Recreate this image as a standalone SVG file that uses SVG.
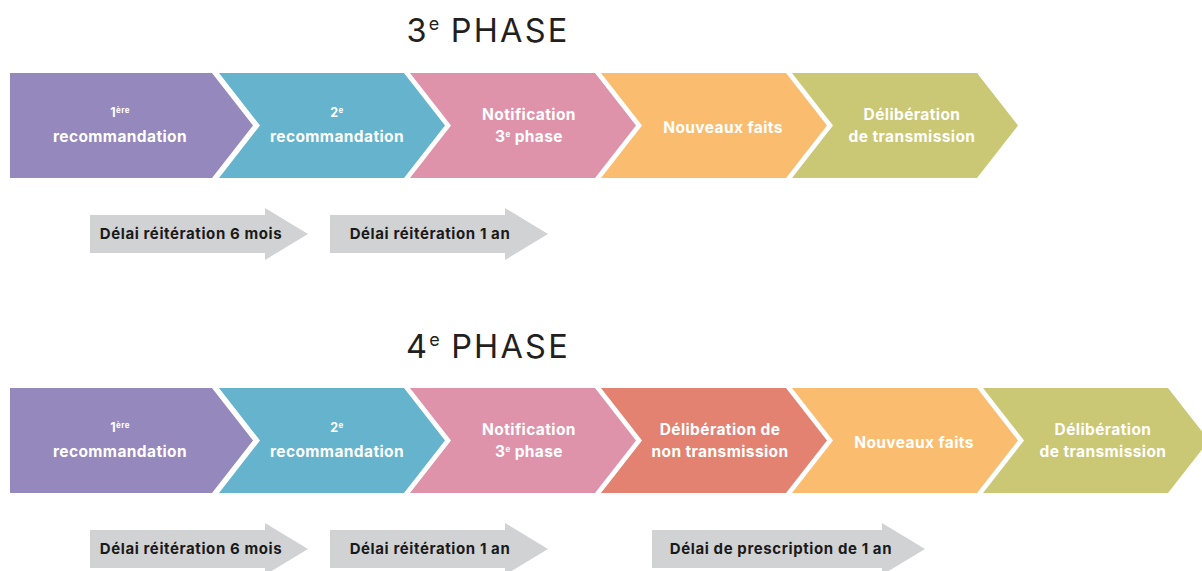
<svg xmlns="http://www.w3.org/2000/svg" width="1202" height="571" viewBox="0 0 1202 571">
<style>
.lbl{font-family:Inter,"Open Sans","Liberation Sans",sans-serif;font-weight:700;font-size:15.5px;letter-spacing:0.4px;fill:#ffffff;text-anchor:middle}
.sm{font-size:12.5px}
.sup{font-size:8px}
.dl{font-family:Inter,"Open Sans","Liberation Sans",sans-serif;font-weight:700;font-size:15px;letter-spacing:0.6px;fill:#1a1a1a;text-anchor:middle}
.ttl{font-family:Inter,"Liberation Sans",sans-serif;font-weight:400;font-size:32.5px;letter-spacing:2.2px;fill:#231f20;text-anchor:middle}
.tsup{font-size:18px;letter-spacing:0}
.gray{fill:#d1d2d4}
.c1{fill:#9488bd}.c2{fill:#66b3cd}.c3{fill:#de93ab}.c4{fill:#fabd70}.c5{fill:#cac874}.c6{fill:#e38271}
</style>
<defs>
<path id="first" d="M10,0 H212 L253,52.5 L212,105 H10 Z"/>
<path id="chev" d="M0,0 H185 L226,52.5 L185,105 H0 L41,52.5 Z"/>
<path id="arr" d="M0,7 H175 V0 L218,26 L175,52 V45 H0 Z"/>
</defs>

<g id="title3"><text class="ttl" x="488" y="42">3<tspan class="tsup" dy="-12">e</tspan><tspan dy="12"> PHASE</tspan></text></g>
<g id="title4"><text class="ttl" x="488" y="358">4<tspan class="tsup" dy="-12">e</tspan><tspan dy="12"> PHASE</tspan></text></g>

<!-- Row 1 -->
<g id="r1n1" transform="translate(0,73)"><use href="#first" class="c1"/><text class="lbl" x="120" y="44"><tspan class="sm">1</tspan><tspan class="sup" dy="-4">ère</tspan></text><text class="lbl" x="120" y="69">recommandation</text></g>
<g id="r1n2" transform="translate(219,73)"><use href="#chev" class="c2"/><text class="lbl" x="118" y="44"><tspan class="sm">2</tspan><tspan class="sup" dy="-4">e</tspan></text><text class="lbl" x="118" y="69">recommandation</text></g>
<g id="r1n3" transform="translate(410,73)"><use href="#chev" class="c3"/><text class="lbl" x="119" y="47">Notification</text><text class="lbl" x="119" y="69">3<tspan class="sup" dy="-5">e</tspan><tspan dy="5"> phase</tspan></text></g>
<g id="r1n4" transform="translate(601,73)"><use href="#chev" class="c4"/><text class="lbl" x="122" y="60">Nouveaux faits</text></g>
<g id="r1n5" transform="translate(792,73)"><use href="#chev" class="c5"/><text class="lbl" x="120" y="47">Délibération</text><text class="lbl" x="120" y="69">de transmission</text></g>

<g id="r1d1" transform="translate(90,208)"><use href="#arr" class="gray"/><text class="dl" x="101" y="31">Délai réitération 6 mois</text></g>
<g id="r1d2" transform="translate(330,208)"><use href="#arr" class="gray"/><text class="dl" x="100" y="31">Délai réitération 1 an</text></g>

<!-- Row 2 -->
<g id="r2n1" transform="translate(0,388)"><use href="#first" class="c1"/><text class="lbl" x="120" y="44"><tspan class="sm">1</tspan><tspan class="sup" dy="-4">ère</tspan></text><text class="lbl" x="120" y="69">recommandation</text></g>
<g id="r2n2" transform="translate(219,388)"><use href="#chev" class="c2"/><text class="lbl" x="118" y="44"><tspan class="sm">2</tspan><tspan class="sup" dy="-4">e</tspan></text><text class="lbl" x="118" y="69">recommandation</text></g>
<g id="r2n3" transform="translate(410,388)"><use href="#chev" class="c3"/><text class="lbl" x="119" y="47">Notification</text><text class="lbl" x="119" y="69">3<tspan class="sup" dy="-5">e</tspan><tspan dy="5"> phase</tspan></text></g>
<g id="r2n4" transform="translate(601,388)"><use href="#chev" class="c6"/><text class="lbl" x="119" y="47">Délibération de</text><text class="lbl" x="119" y="69">non transmission</text></g>
<g id="r2n5" transform="translate(792,388)"><use href="#chev" class="c4"/><text class="lbl" x="122" y="60">Nouveaux faits</text></g>
<g id="r2n6" transform="translate(983,388)"><use href="#chev" class="c5"/><text class="lbl" x="120" y="47">Délibération</text><text class="lbl" x="120" y="69">de transmission</text></g>

<g id="r2d1" transform="translate(90,523)"><use href="#arr" class="gray"/><text class="dl" x="101" y="31">Délai réitération 6 mois</text></g>
<g id="r2d2" transform="translate(330,523)"><use href="#arr" class="gray"/><text class="dl" x="100" y="31">Délai réitération 1 an</text></g>
<g id="r2d3" transform="translate(652,523)"><path class="gray" d="M0,7 H230 V0 L273,26 L230,52 V45 H0 Z"/><text class="dl" x="129" y="31">Délai de prescription de 1 an</text></g>

<g id="connectors"/>
</svg>
